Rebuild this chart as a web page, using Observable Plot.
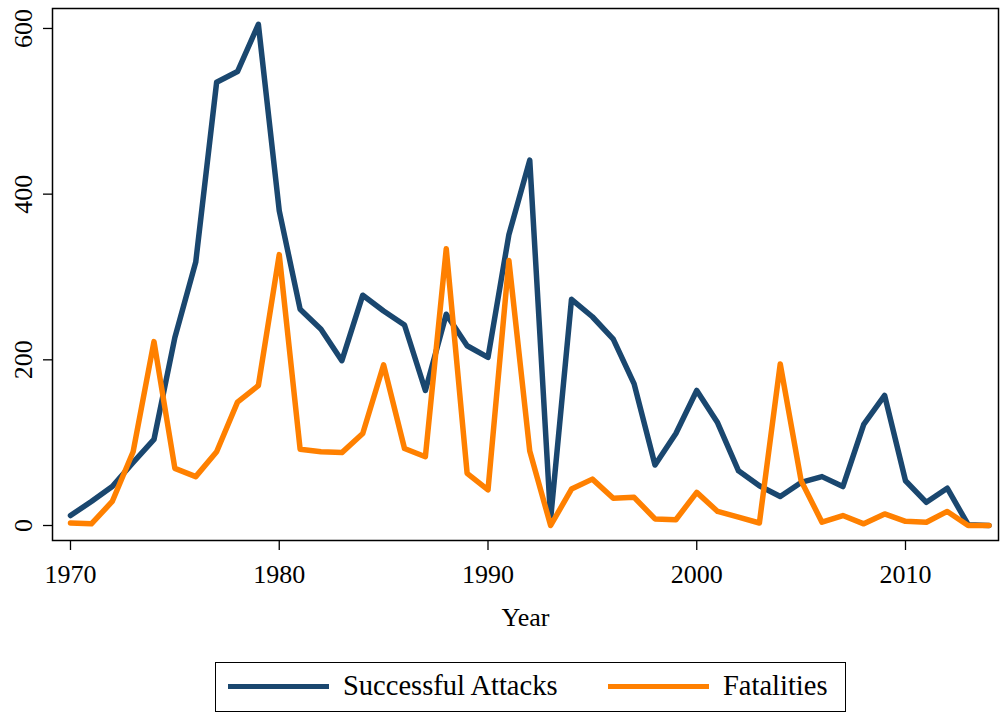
<!DOCTYPE html>
<html><head><meta charset="utf-8">
<script src="https://cdn.jsdelivr.net/npm/d3@7"></script>
<script src="https://cdn.jsdelivr.net/npm/@observablehq/plot@0.6"></script>
<style>
body{margin:0;background:#fff;font-family:"Liberation Serif",serif;}
#chart{position:absolute;left:0;top:0;}
#legend{position:absolute;left:215px;top:662px;width:631px;height:50px;box-sizing:border-box;border:1.5px solid #000;font-family:"Liberation Serif",serif;font-size:28.5px;color:#000;}
#legend .sw{position:absolute;height:5px;top:21px;}
#legend .lb{position:absolute;top:6px;line-height:34px;white-space:nowrap;}
</style>
</head><body>
<div id="chart"></div>
<div id="legend"></div>
<script>
const years = [1970,1971,1972,1973,1974,1975,1976,1977,1978,1979,1980,1981,1982,1983,1984,1985,1986,1987,1988,1989,1990,1991,1992,1993,1994,1995,1996,1997,1998,1999,2000,2001,2002,2003,2004,2005,2006,2007,2008,2009,2010,2011,2012,2013,2014];
const attacks = [12,29,47,76,104,227,318,535,548,605,380,261,237,199,278,259,242,163,255,217,203,351,441,8,273,252,225,171,73,111,163,124,66,48,35,52,59,47,122,157,54,28,45,1,0];
const fatalities = [3,2,29,89,222,69,59,89,149,169,327,92,89,88,111,194,93,83,334,63,43,320,90,0,44,56,33,34,8,7,40,17,10,3,195,54,4,12,2,14,5,4,17,0,0];
const seriesNames = ["Successful Attacks","Fatalities"];
const seriesColors = ["#1a476f","#ff8000"];
const xTicks = [1970,1980,1990,2000,2010];
const yTicks = [0,200,400,600];

const data = [];
years.forEach((y,i)=>{
  data.push({year:y, value:attacks[i], series:seriesNames[0]});
  data.push({year:y, value:fatalities[i], series:seriesNames[1]});
});

const plot = Plot.plot({
  width:1000, height:645,
  marginLeft:52, marginRight:2, marginTop:8, marginBottom:105,
  style:{fontFamily:'"Liberation Serif", serif', fontSize:"26px", color:"#000", background:"#fff"},
  x:{domain:[1969.138,2014.455]},
  y:{domain:[-18.1,624.1]},
  color:{domain:seriesNames, range:seriesColors},
  marks:[
    Plot.frame({stroke:"#000", strokeWidth:1.5}),
    Plot.axisX({ticks:xTicks, tickSize:10, tickPadding:14, tickFormat:d=>String(d), strokeWidth:1.3,
      label:"Year", labelAnchor:"center", labelArrow:"none", labelOffset:85}),
    Plot.axisY({ticks:yTicks, tickSize:9, tickPadding:12, tickRotate:-90, strokeWidth:1.3, label:null}),
    Plot.line(data,{x:"year", y:"value", z:"series", stroke:"series", strokeWidth:5.5, strokeLinejoin:"round", strokeLinecap:"round"})
  ]
});
document.getElementById("chart").appendChild(plot);

const lg = document.getElementById("legend");
const pos = [{sw:12, w:101, lb:127},{sw:392, w:101, lb:507}];
seriesNames.forEach((n,i)=>{
  const s=document.createElement("div"); s.className="sw";
  s.style.left=pos[i].sw+"px"; s.style.width=pos[i].w+"px"; s.style.background=seriesColors[i];
  lg.appendChild(s);
  const t=document.createElement("div"); t.className="lb"; t.style.left=pos[i].lb+"px"; t.textContent=n;
  lg.appendChild(t);
});
</script>
</body></html>
